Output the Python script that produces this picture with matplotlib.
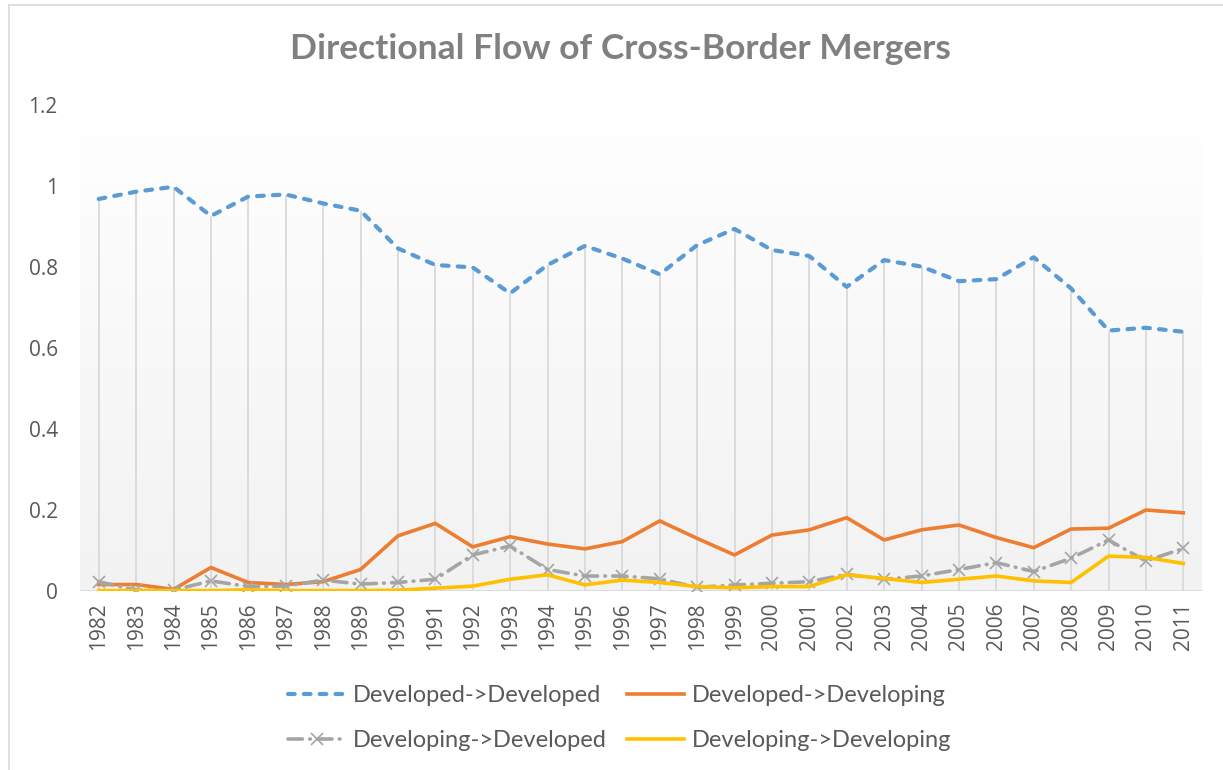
import numpy as np
import matplotlib
matplotlib.use('Agg')
import matplotlib.pyplot as plt
from matplotlib.lines import Line2D

years = list(range(1982, 2012))

dev_dev = [0.968, 0.986, 0.998, 0.926, 0.974, 0.979, 0.957, 0.939, 0.846, 0.805,
           0.799, 0.735, 0.805, 0.852, 0.821, 0.782, 0.854, 0.894, 0.842, 0.827,
           0.751, 0.817, 0.801, 0.765, 0.770, 0.824, 0.747, 0.643, 0.650, 0.640]
dev_devg = [0.016, 0.016, 0.004, 0.058, 0.021, 0.016, 0.023, 0.053, 0.136, 0.167,
            0.109, 0.134, 0.116, 0.104, 0.122, 0.173, 0.130, 0.089, 0.138, 0.151,
            0.181, 0.126, 0.151, 0.163, 0.132, 0.107, 0.153, 0.155, 0.200, 0.193]
devg_dev = [0.023, 0.002, 0.002, 0.025, 0.011, 0.012, 0.027, 0.017, 0.021, 0.029,
            0.089, 0.111, 0.053, 0.037, 0.037, 0.030, 0.009, 0.015, 0.019, 0.023,
            0.041, 0.029, 0.037, 0.053, 0.070, 0.048, 0.081, 0.126, 0.074, 0.105]
devg_devg = [0.001, 0.001, 0.001, 0.001, 0.003, 0.001, 0.001, 0.001, 0.002, 0.007,
             0.012, 0.029, 0.040, 0.015, 0.027, 0.021, 0.011, 0.008, 0.011, 0.011,
             0.040, 0.031, 0.021, 0.029, 0.037, 0.025, 0.021, 0.086, 0.083, 0.068]

labels = ['Developed->Developed', 'Developed->Developing',
          'Developing->Developed', 'Developing->Developing']

W, H = 1223, 770
fig = plt.figure(figsize=(W / 100, H / 100), dpi=100)
ax = fig.add_axes([80 / W, 1 - 591 / H, (1202 - 80) / W, (591 - 105) / H])

# chart border (left and top only visible)
fig.add_artist(Line2D([9 / W, 9 / W], [0, 1 - 5 / H], color='#d9d9d9', lw=1.2))
fig.add_artist(Line2D([9 / W, 1], [1 - 5 / H, 1 - 5 / H], color='#d9d9d9', lw=1.2))

# gradient plot area
grad = np.linspace(1, 0, 256).reshape(-1, 1)
top = np.array([1.0, 1.0, 1.0])
bot = np.array([0xf2, 0xf2, 0xf2]) / 255
img = top * (1 - grad[..., None]) + bot * grad[..., None]
img = img[::-1]
ax.imshow(img, extent=[1981.5, 2011.5, 0, 1.2], aspect='auto', zorder=0)

ax.vlines(years, 0, dev_dev, color='#d9d9d9', lw=1.3, zorder=1)
ax.axhline(0, color='#d9d9d9', lw=1.3, zorder=1)

ax.plot(years, dev_dev, color='#5b9bd5', lw=3, dashes=(1.6, 2.2),
        dash_capstyle='round', zorder=3)
ax.plot(years, dev_devg, color='#ed7d31', lw=2.6, zorder=3)
ax.plot(years, devg_dev, color='#a5a5a5', lw=2.6, dashes=(4, 2, 0.2, 2),
        dash_capstyle='round', marker='x', ms=9, mew=1.2, mec='#a5a5a5', zorder=3)
ax.plot(years, devg_devg, color='#ffc000', lw=2.6, zorder=3)

ax.set_xlim(1981.5, 2011.5)
ax.set_ylim(0, 1.2)
ax.set_xticks(years)
ax.set_xticklabels([str(y) for y in years], rotation=90, fontsize=15,
                   family='Open Sans', color='#595959')
ax.set_yticks([0, 0.2, 0.4, 0.6, 0.8, 1, 1.2])
ax.set_yticklabels(['0', '0.2', '0.4', '0.6', '0.8', '1', '1.2'], fontsize=15,
                   family='Open Sans', color='#595959')
ax.tick_params(axis='both', length=0)
ax.tick_params(axis='y', pad=16)
ax.tick_params(axis='x', pad=8)
for s in ax.spines.values():
    s.set_visible(False)

fig.text(620 / W, 1 - 49 / H, 'Directional Flow of Cross-Border Mergers',
         ha='center', va='center', fontsize=25.5, fontweight='bold',
         family='Lato', color='#808080')

handles = [
    Line2D([], [], color='#5b9bd5', lw=3, dashes=(1.6, 2.2), dash_capstyle='round'),
    Line2D([], [], color='#a5a5a5', lw=2.6, dashes=(4, 2, 0.2, 2), dash_capstyle='round',
           marker='x', ms=9, mew=1.2),
    Line2D([], [], color='#ed7d31', lw=2.6),
    Line2D([], [], color='#ffc000', lw=2.6),
]
leg_labels = [labels[0], labels[2], labels[1], labels[3]]
leg = fig.legend(handles, leg_labels, ncol=2, loc='center',
                 bbox_to_anchor=(620 / W, 1 - 718 / H), frameon=False,
                 prop={'family': 'Lato', 'size': 17}, labelcolor='#595959',
                 handlelength=2.4, handletextpad=0.35, columnspacing=0.85,
                 labelspacing=1.0)

fig.savefig('out.png', dpi=100)
